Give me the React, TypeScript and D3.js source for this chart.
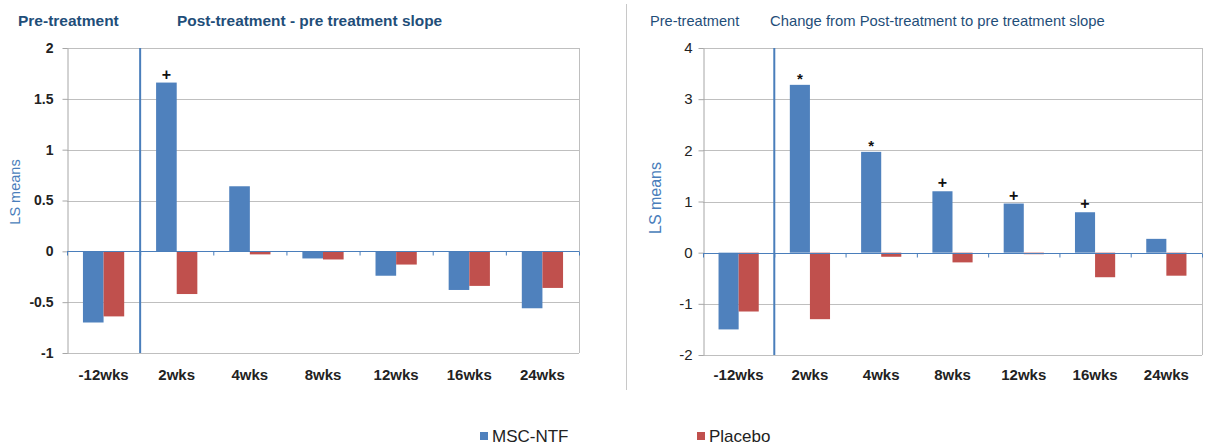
import { useEffect, useRef } from "react";
import * as d3 from "d3";

const weeks = ["-12wks", "2wks", "4wks", "8wks", "12wks", "16wks", "24wks"];
const seriesNames = ["MSC-NTF", "Placebo"];
const colors = ["#4f81bd", "#c0504d"];

// left panel: post-treatment minus pre-treatment slope
const leftMsc = [-0.7, 1.66, 0.64, -0.07, -0.24, -0.38, -0.56];
const leftPlacebo = [-0.64, -0.42, -0.03, -0.08, -0.13, -0.34, -0.36];
const leftMarks = ["", "+", "", "", "", "", ""];
const leftTicks = [2, 1.5, 1, 0.5, 0, -0.5, -1];

// right panel: change from post-treatment to pre-treatment slope
const rightMsc = [-1.5, 3.28, 1.97, 1.2, 0.96, 0.79, 0.27];
const rightPlacebo = [-1.15, -1.3, -0.08, -0.19, -0.03, -0.48, -0.45];
const rightMarks = ["", "*", "*", "+", "+", "+", ""];
const rightTicks = [4, 3, 2, 1, 0, -1, -2];

const FONT = "'Liberation Sans', Arial, sans-serif";
const NAVY = "#1f4e79";
const AXIS_BLUE = "#4a7ebb";

interface Panel {
  left: number;
  right: number;
  top: number;
  bottom: number;
  msc: number[];
  placebo: number[];
  marks: string[];
  ticks: number[];
  boldTicks: boolean;
  tickSize: number;
  tickPad: number;
  labelX: number;
  labelY: number;
  labelSize: number;
  titles: { text: string; x: number; bold: boolean; size: number }[];
}

const panels: Panel[] = [
  {
    left: 67, right: 579, top: 48, bottom: 353,
    msc: leftMsc, placebo: leftPlacebo, marks: leftMarks, ticks: leftTicks,
    boldTicks: true, tickSize: 14, tickPad: 9,
    labelX: 15, labelY: 192, labelSize: 14.5,
    titles: [
      { text: "Pre-treatment", x: 18, bold: true, size: 15.5 },
      { text: "Post-treatment - pre treatment slope", x: 177, bold: true, size: 15.4 },
    ],
  },
  {
    left: 703, right: 1202, top: 48, bottom: 355,
    msc: rightMsc, placebo: rightPlacebo, marks: rightMarks, ticks: rightTicks,
    boldTicks: false, tickSize: 15, tickPad: 6,
    labelX: 655, labelY: 198, labelSize: 16,
    titles: [
      { text: "Pre-treatment", x: 650, bold: false, size: 14.6 },
      { text: "Change from Post-treatment to pre treatment slope", x: 770, bold: false, size: 14.8 },
    ],
  },
];

export default function App() {
  const svgRef = useRef<SVGSVGElement>(null);

  useEffect(() => {
    const svg = d3.select(svgRef.current).html(null);
    svg.append("rect").attr("width", 1206).attr("height", 446).attr("fill", "#fff");

    // separator between the two panels
    svg.append("line")
      .attr("x1", 626.5).attr("x2", 626.5).attr("y1", 4).attr("y2", 390)
      .attr("stroke", "#c8c8c8").attr("stroke-width", 1);

    panels.forEach((p) => {
      const g = svg.append("g");
      const yScale = d3.scaleLinear()
        .domain([d3.min(p.ticks) as number, d3.max(p.ticks) as number])
        .range([p.bottom, p.top]);
      const xScale = d3.scaleBand<string>()
        .domain(weeks)
        .range([p.left, p.right])
        .paddingInner(0.436)
        .paddingOuter(0.218);
      const step = xScale.step();
      const inner = d3.scaleBand<string>()
        .domain(seriesNames)
        .range([0, xScale.bandwidth()]);

      p.titles.forEach((t) => {
        g.append("text")
          .attr("x", t.x).attr("y", 25.5)
          .attr("fill", NAVY)
          .style("font-family", FONT)
          .style("font-size", `${t.size}px`)
          .style("font-weight", t.bold ? "bold" : "normal")
          .text(t.text);
      });

      // gridlines
      g.selectAll(".grid")
        .data(p.ticks.filter((t) => t !== 0))
        .join("line")
        .attr("x1", p.left).attr("x2", p.right)
        .attr("y1", (d) => Math.round(yScale(d)) + 0.5)
        .attr("y2", (d) => Math.round(yScale(d)) + 0.5)
        .attr("stroke", "#bfbfbf");

      g.append("line")
        .attr("x1", p.right + 0.5).attr("x2", p.right + 0.5)
        .attr("y1", p.top).attr("y2", p.bottom)
        .attr("stroke", "#bfbfbf");

      // y axis
      const yAxis = g.append("g")
        .attr("transform", `translate(${p.left + 0.5},0)`)
        .call(
          d3.axisLeft(yScale)
            .tickValues(p.ticks)
            .tickFormat((d) => String(d))
            .tickSize(5)
            .tickSizeOuter(0)
            .tickPadding(p.tickPad)
        );
      yAxis.select(".domain").attr("stroke", "#a6a6a6");
      yAxis.selectAll(".tick line").attr("stroke", "#a6a6a6");
      yAxis.selectAll("text")
        .attr("fill", "#222")
        .style("font-family", FONT)
        .style("font-size", `${p.tickSize}px`)
        .style("font-weight", p.boldTicks ? "bold" : "normal");

      g.append("text")
        .attr("transform", `translate(${p.labelX},${p.labelY}) rotate(-90)`)
        .attr("text-anchor", "middle")
        .attr("dy", "0.35em")
        .attr("fill", AXIS_BLUE)
        .style("font-family", FONT)
        .style("font-size", `${p.labelSize}px`)
        .text("LS means");

      // bars
      weeks.forEach((w, i) => {
        [p.msc[i], p.placebo[i]].forEach((v, s) => {
          const y0 = yScale(0);
          const y1 = yScale(v);
          g.append("rect")
            .attr("x", (xScale(w) as number) + (inner(seriesNames[s]) as number))
            .attr("y", Math.min(y0, y1))
            .attr("width", inner.bandwidth())
            .attr("height", Math.abs(y1 - y0))
            .attr("fill", colors[s]);
        });
        if (p.marks[i]) {
          const isStar = p.marks[i] === "*";
          g.append("text")
            .attr("x", (xScale(w) as number) + (inner(seriesNames[0]) as number) + inner.bandwidth() / 2)
            .attr("y", yScale(p.msc[i]) - (isStar ? 1 : 3))
            .attr("text-anchor", "middle")
            .attr("fill", "#111")
            .style("font-family", FONT)
            .style("font-size", isStar ? "15px" : "16px")
            .style("font-weight", "bold")
            .text(p.marks[i]);
        }
      });

      // zero line with category ticks
      const y0 = Math.round(yScale(0)) + 0.5;
      g.append("line")
        .attr("x1", p.left).attr("x2", p.right)
        .attr("y1", y0).attr("y2", y0)
        .attr("stroke", AXIS_BLUE);
      g.selectAll(".cat-tick")
        .data(d3.range(weeks.length + 1))
        .join("line")
        .attr("x1", (d) => p.left + d * step + 0.5)
        .attr("x2", (d) => p.left + d * step + 0.5)
        .attr("y1", y0).attr("y2", y0 + 4)
        .attr("stroke", AXIS_BLUE);

      // pre / post treatment divider
      g.append("line")
        .attr("x1", p.left + step).attr("x2", p.left + step)
        .attr("y1", p.top).attr("y2", p.bottom)
        .attr("stroke", AXIS_BLUE).attr("stroke-width", 2);

      // x labels
      g.selectAll(".xlabel")
        .data(weeks)
        .join("text")
        .attr("x", (d) => (xScale(d) as number) + xScale.bandwidth() / 2)
        .attr("y", 380)
        .attr("text-anchor", "middle")
        .attr("fill", "#222")
        .style("font-family", FONT)
        .style("font-size", "15px")
        .style("font-weight", "bold")
        .text((d) => d);
    });

    // legend
    const legendX = [480, 697];
    seriesNames.forEach((name, i) => {
      svg.append("rect")
        .attr("x", legendX[i]).attr("y", 432)
        .attr("width", 8).attr("height", 8)
        .attr("fill", colors[i]);
      svg.append("text")
        .attr("x", legendX[i] + 12).attr("y", 442)
        .attr("fill", "#222")
        .style("font-family", FONT)
        .style("font-size", "17px")
        .text(name);
    });
  }, []);

  return (
    <div style={{ position: "absolute", left: 0, top: 0 }}>
      <svg ref={svgRef} width={1206} height={446} style={{ display: "block" }}></svg>
    </div>
  );
}
